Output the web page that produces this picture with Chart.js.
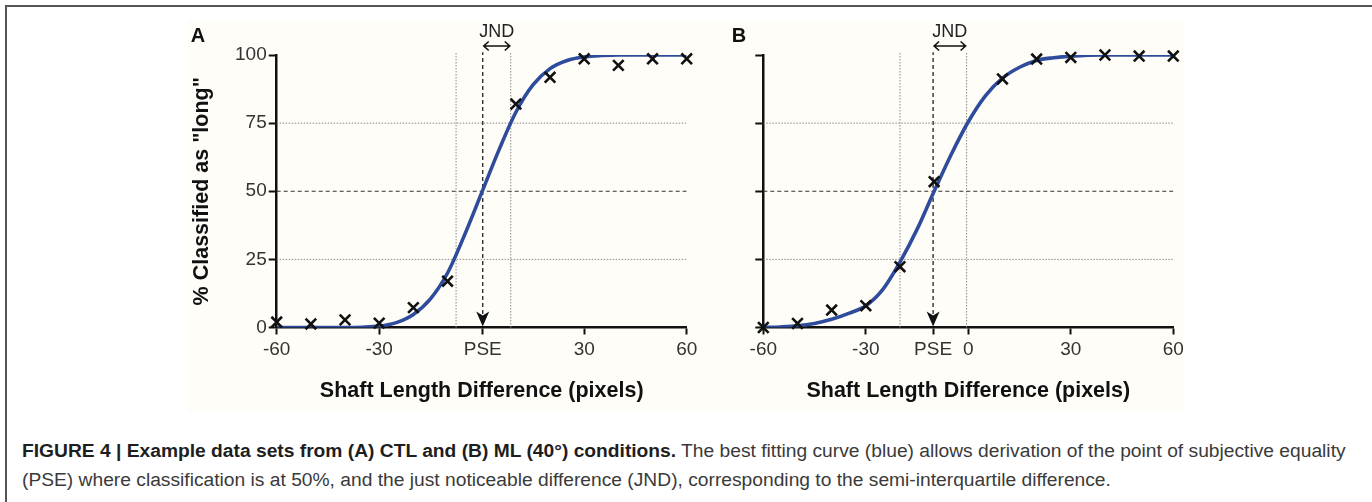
<!DOCTYPE html>
<html>
<head>
<meta charset="utf-8">
<script src="https://cdn.jsdelivr.net/npm/chart.js@4.4.0/dist/chart.umd.min.js"></script>
<style>
    body { margin: 0; width: 1372px; height: 502px; background: #fff; position: relative; overflow: hidden;
           font-family: "Liberation Sans", Arial, Helvetica, sans-serif; }
    #frame { position: absolute; left: 5px; top: 5px; width: 1400px; height: 600px;
             border-top: 2px solid #555; border-left: 2px solid #555; }
    #bg { position: absolute; left: 188px; top: 20px; width: 995px; height: 392px; background: #fefdf8; }
    canvas { position: absolute; top: 0; }
    #chartA { left: 0; }
    #chartB { left: 700px; }
    .panel { position: absolute; font-weight: bold; font-size: 20px; color: #111; transform: translate(-50%, -50%); }
    .cap { position: absolute; left: 22px; white-space: nowrap; font-size: 17px; line-height: 20px; color: #3a3a3a; }
    .cap b { color: #1e1e1e; }
</style>
</head>
<body>
<div id="frame"></div>
<div id="bg"></div>
<canvas id="chartA" width="700" height="420"></canvas>
<canvas id="chartB" width="672" height="420"></canvas>
<div class="panel" style="left:198px;top:35px">A</div>
<div class="panel" style="left:739px;top:35px">B</div>
<div class="cap" id="cap1" style="top:441px"><b>FIGURE 4 | Example data sets from (A) CTL and (B) ML (40°) conditions.</b> The best fitting curve (blue) allows derivation of the point of subjective equality</div>
<div class="cap" id="cap2" style="top:470px">(PSE) where classification is at 50%, and the just noticeable difference (JND), corresponding to the semi-interquartile difference.</div>

<script>
// Shaft length differences that were tested (pixels)
const testedDiffs = [-60, -50, -40, -30, -20, -10, 10, 20, 30, 40, 50, 60];
// % classified as "long" per condition
const pointsA = [2, 1.3, 2.8, 1.6, 7.3, 17, 82, 91.8, 98.6, 96.2, 98.6, 98.6];
const pointsB = [0, 1.5, 6.4, 8, 22.3, 53.5, 91.2, 98.5, 99.1, 100, 99.6, 99.6];

// Best fitting curves
const curveXA = [-60, -50, -40, -35, -30, -25, -20, -15, -10, -5, 0, 5, 10, 15, 20, 25, 30, 35, 40, 50, 60];
const curveA = [0, 0, 0, 0.1, 0.5, 1.8, 4.8, 10.5, 20, 34, 49.5, 65, 79, 89, 95, 98, 99.3, 99.8, 100, 100, 100];
const curveXB = [-60, -55, -50, -45, -40, -35, -30, -25, -20, -15, -10, -5, 0, 5, 10, 15, 20, 25, 30, 40, 50, 60];
const curveB = [0, 0.2, 0.6, 1.5, 3, 5.2, 8, 14, 24, 36, 50, 63.5, 75.5, 85, 91.5, 95.5, 98, 99, 99.6, 100, 100, 100];

// PSE and JND bounds (quartile points)
const pseA = 0.3, jndA = [-7.5, 8.5];
const pseB = -10.3, jndB = [-20, -0.5];

// Horizontal reference levels
const refLevels = [25, 50, 75];

// Axis ticks
const yTicks = [0, 25, 50, 75, 100];
const xTicksA = [-60, -30, pseA, 30, 60];
const xLabelsA = ['-60', '-30', 'PSE', '30', '60'];
const xTicksB = [-60, -30, pseB, 0, 30, 60];
const xLabelsB = ['-60', '-30', 'PSE', '0', '30', '60'];

const xTitle = 'Shaft Length Difference (pixels)';
const yTitle = '% Classified as "long"';

const BLUE = '#2f4c9c';

function toXY(xs, ys) {
    return xs.map((x, i) => ({ x: x, y: ys[i] }));
}

function buildDatasets(points, curveX, curve, pse, jnd) {
    const sets = [];
    sets.push({
        data: toXY(testedDiffs, points),
        showLine: false,
        pointStyle: 'crossRot',
        pointRadius: 7.5,
        pointBorderWidth: 2.6,
        pointBorderColor: '#111',
        clip: false
    });
    sets.push({
        data: toXY(curveX, curve),
        borderColor: BLUE,
        borderWidth: 3.6,
        pointRadius: 0,
        cubicInterpolationMode: 'monotone'
    });
    refLevels.forEach(level => {
        const mid = level === 50;
        sets.push({
            data: [{ x: -60, y: level }, { x: 60, y: level }],
            borderColor: mid ? '#333' : '#8a8a8a',
            borderWidth: mid ? 1.2 : 1,
            borderDash: mid ? [4, 3] : [1.5, 1.5],
            pointRadius: 0
        });
    });
    jnd.forEach(v => {
        sets.push({
            data: [{ x: v, y: 0 }, { x: v, y: 101 }],
            borderColor: '#8a8a8a',
            borderWidth: 1,
            borderDash: [1.5, 1.5],
            pointRadius: 0,
            clip: false
        });
    });
    sets.push({
        data: [{ x: pse, y: 5 }, { x: pse, y: 101 }],
        borderColor: '#222',
        borderWidth: 1.3,
        borderDash: [4, 3],
        pointRadius: 0,
        clip: false
    });
    return sets;
}

// Draws the PSE arrowhead and the JND bracket above the plot
const pseMarks = {
    id: 'pseMarks',
    afterDatasetsDraw(chart, args, opts) {
        const ctx = chart.ctx;
        const xs = chart.scales.x, ys = chart.scales.y;
        const px = xs.getPixelForValue(opts.pse);
        const hi = xs.getPixelForValue(opts.jnd[1]);
        const yb = ys.getPixelForValue(0);
        ctx.save();
        ctx.fillStyle = '#111';
        ctx.beginPath();
        ctx.moveTo(px, yb - 1);
        ctx.lineTo(px - 6.5, yb - 16);
        ctx.lineTo(px, yb - 12);
        ctx.lineTo(px + 6.5, yb - 16);
        ctx.closePath();
        ctx.fill();

        // JND double arrow
        const ya = chart.chartArea.top - 9;
        ctx.strokeStyle = '#111';
        ctx.lineWidth = 1.6;
        ctx.beginPath();
        ctx.moveTo(px + 1, ya);
        ctx.lineTo(hi - 1, ya);
        ctx.moveTo(px + 6, ya - 4.5);
        ctx.lineTo(px + 1, ya);
        ctx.lineTo(px + 6, ya + 4.5);
        ctx.moveTo(hi - 6, ya - 4.5);
        ctx.lineTo(hi - 1, ya);
        ctx.lineTo(hi - 6, ya + 4.5);
        ctx.stroke();

        ctx.font = '18px "Liberation Sans", Arial, sans-serif';
        ctx.fillStyle = '#222';
        ctx.textAlign = 'center';
        ctx.textBaseline = 'middle';
        ctx.fillText('JND', (px + hi) / 2, ya - 14);
        ctx.restore();
    }
};

function makeChart(id, cfg) {
    const tickFont = { family: '"Liberation Sans", Arial, sans-serif', size: 19 };
    const titleFont = { family: '"Liberation Sans", Arial, sans-serif', size: 21.5, weight: 'bold' };
    return new Chart(document.getElementById(id), {
        type: 'line',
        data: { datasets: buildDatasets(cfg.points, cfg.curveX, cfg.curve, cfg.pse, cfg.jnd) },
        options: {
            responsive: false,
            animation: false,
            layout: { padding: cfg.padding },
            plugins: {
                legend: { display: false },
                tooltip: { enabled: false },
                pseMarks: { pse: cfg.pse, jnd: cfg.jnd }
            },
            scales: {
                x: {
                    type: 'linear',
                    min: -60,
                    max: 60,
                    afterBuildTicks: s => { s.ticks = cfg.xTicks.map(v => ({ value: v })); },
                    afterFit: s => { s.height = 80.1; s.paddingLeft = 0; s.paddingRight = 0; },
                    ticks: {
                        autoSkip: false,
                        maxRotation: 0,
                        padding: 4,
                        color: '#333',
                        font: tickFont,
                        callback: v => cfg.xLabels[cfg.xTicks.indexOf(v)]
                    },
                    grid: { drawOnChartArea: false, tickLength: 7, tickWidth: 2, tickColor: '#111' },
                    border: { color: '#111', width: 2.5 },
                    title: { display: true, text: xTitle, color: '#111', font: titleFont }
                },
                y: {
                    min: 0,
                    max: 100,
                    afterBuildTicks: s => { s.ticks = yTicks.map(v => ({ value: v })); },
                    afterFit: s => { s.width = cfg.yWidth; s.paddingTop = 0; s.paddingBottom = 0; },
                    ticks: {
                        padding: 2,
                        color: '#333',
                        font: tickFont,
                        callback: v => cfg.yLabels ? String(v) : ''
                    },
                    grid: { drawOnChartArea: false, tickLength: 8, tickWidth: 2, tickColor: '#111' },
                    border: { color: '#111', width: 2.5 },
                    title: { display: cfg.yLabels, text: yTitle, color: '#111', font: titleFont }
                }
            }
        },
        plugins: [pseMarks]
    });
}

makeChart('chartA', {
    points: pointsA, curveX: curveXA, curve: curveA, pse: pseA, jnd: jndA,
    xTicks: xTicksA, xLabels: xLabelsA, yLabels: true,
    padding: { left: 184.8, top: 55, right: 13.3, bottom: 12.4 },
    yWidth: 91.9
});

makeChart('chartB', {
    points: pointsB, curveX: curveXB, curve: curveB, pse: pseB, jnd: jndB,
    xTicks: xTicksB, xLabels: xLabelsB, yLabels: false,
    padding: { left: 20, top: 55, right: 198.7, bottom: 12.4 },
    yWidth: 43.3
});

// Fit caption width to the figure box
const cap1 = document.getElementById('cap1');
const cap2 = document.getElementById('cap2');
const size = 17 * 1325 / cap1.getBoundingClientRect().width;
cap1.style.fontSize = size + 'px';
cap2.style.fontSize = size + 'px';
</script>
</body>
</html>
